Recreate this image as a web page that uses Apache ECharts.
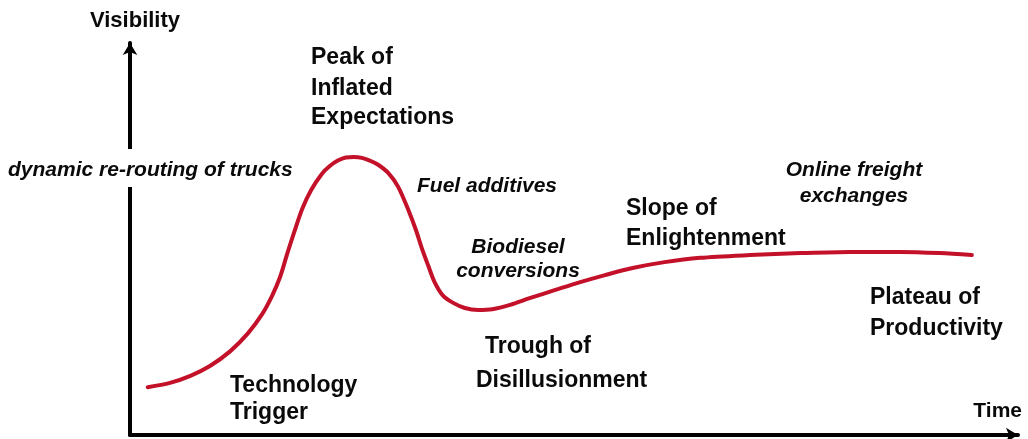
<!DOCTYPE html>
<html>
<head>
<meta charset="utf-8">
<script src="https://cdn.jsdelivr.net/npm/echarts@6/dist/echarts.min.js"></script>
<style>
  html, body { margin: 0; padding: 0; background: #fff; }
  #chart { width: 1028px; height: 439px; }
</style>
</head>
<body>
<div id="chart"></div>
<script>
// ---- Data ----
// Time (0-100) and Visibility (0-100) of the hype-cycle curve
const timeValues = [2.0, 4.5, 6.8, 9.0, 11.3, 13.3, 14.9, 16.0, 16.9, 17.7, 18.5, 19.4, 20.4, 21.6, 22.5, 23.4, 24.3, 25.2, 26.1, 27.0, 27.9, 29.1, 30.2, 31.4, 32.2, 32.9, 33.6, 34.3, 35.2, 36.4, 37.7, 39.2, 40.8, 42.8, 45.0, 47.9, 50.7, 53.5, 56.6, 60.2, 64.2, 69.8, 75.5, 81.1, 86.7, 91.2, 94.8];
const visibilityValues = [12.2, 13.3, 15.1, 17.6, 21.4, 26.0, 30.9, 35.5, 40.3, 46.2, 51.8, 57.7, 62.5, 66.6, 68.6, 70.0, 70.8, 70.9, 70.7, 70.0, 69.0, 66.8, 63.3, 57.1, 52.3, 47.4, 43.1, 39.0, 35.7, 33.7, 32.4, 31.9, 32.1, 33.2, 34.9, 37.0, 39.0, 40.8, 42.6, 44.1, 45.2, 45.9, 46.4, 46.7, 46.7, 46.4, 45.9];

const axisNames = ['Time', 'Visibility'];
const phaseLabels = [
  ['Peak of', 'Inflated', 'Expectations'],
  ['Technology', 'Trigger'],
  ['Trough of'],
  ['Disillusionment'],
  ['Slope of', 'Enlightenment'],
  ['Plateau of', 'Productivity']
];
const technologyLabels = [
  ['dynamic re-routing of trucks'],
  ['Fuel additives'],
  ['Biodiesel', 'conversions'],
  ['Online freight', 'exchanges']
];

// ---- Layout (pixel positions of annotation text) ----
const FONT = '"Liberation Sans", Arial, Helvetica, sans-serif';
const phaseFont = 'bold 23px ' + FONT;
const techFont = 'italic bold 21px ' + FONT;

const phaseLayout = [
  { x: 311, align: 'left', ys: [58, 89, 118] },
  { x: 230, align: 'left', ys: [386, 413] },
  { x: 485, align: 'left', ys: [347] },
  { x: 476, align: 'left', ys: [381] },
  { x: 626, align: 'left', ys: [209, 239] },
  { x: 870, align: 'left', ys: [298, 329] }
];
const techLayout = [
  { x: 8, align: 'left', ys: [170] },
  { x: 417, align: 'left', ys: [186] },
  { x: 518, align: 'center', ys: [247, 271] },
  { x: 854, align: 'center', ys: [170, 196] }
];

const graphics = [];
// white gap in the vertical axis behind the first technology label
graphics.push({ type: 'rect', z: 100, shape: { x: 124, y: 149, width: 12, height: 38 }, style: { fill: '#fff' } });

function addGroups(labels, layout, font) {
  labels.forEach(function (lines, i) {
    const L = layout[i];
    lines.forEach(function (t, j) {
      graphics.push({
        type: 'text', z: 101,
        x: L.x, y: L.ys[j],
        style: { text: t, font: font, fill: '#0a0a0a', textAlign: L.align, textVerticalAlign: 'middle' }
      });
    });
  });
}
addGroups(phaseLabels, phaseLayout, phaseFont);
addGroups(technologyLabels, techLayout, techFont);

// axis titles
graphics.push({ type: 'text', z: 101, x: 135, y: 21, style: { text: axisNames[1], font: 'bold 22px ' + FONT, fill: '#0a0a0a', textAlign: 'center', textVerticalAlign: 'middle' } });
graphics.push({ type: 'text', z: 101, x: 1022, y: 411, style: { text: axisNames[0], font: 'bold 21px ' + FONT, fill: '#0a0a0a', textAlign: 'right', textVerticalAlign: 'middle' } });

const axisLine = {
  show: true,
  onZero: true,
  symbol: ['none', 'arrow'],
  symbolSize: [11, 12],
  lineStyle: { color: '#000', width: 4 }
};

const chart = echarts.init(document.getElementById('chart'), null, { renderer: 'canvas' });
chart.setOption({
  animation: false,
  backgroundColor: '#fff',
  grid: { left: 130, right: 10, top: 43, bottom: 4, containLabel: false },
  xAxis: {
    type: 'value', min: 0, max: 100,
    axisLine: axisLine,
    axisTick: { show: false }, axisLabel: { show: false }, splitLine: { show: false }
  },
  yAxis: {
    type: 'value', min: 0, max: 100,
    axisLine: axisLine,
    axisTick: { show: false }, axisLabel: { show: false }, splitLine: { show: false }
  },
  series: [{
    type: 'line',
    data: timeValues.map(function (t, i) { return [t, visibilityValues[i]]; }),
    smooth: 0.3,
    showSymbol: false,
    symbol: 'none',
    lineStyle: { color: '#c3112a', width: 4, cap: 'round', join: 'round' },
    z: 5
  }],
  graphic: graphics
});
</script>
</body>
</html>
